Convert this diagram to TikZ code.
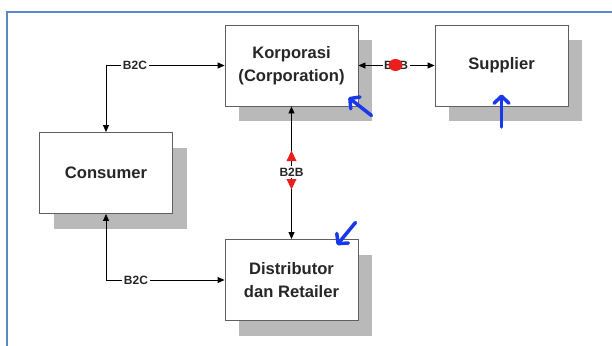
\documentclass[tikz,border=0pt]{standalone}
\usepackage{fontspec}
\setmainfont{Liberation Sans}
\usetikzlibrary{arrows.meta}
\definecolor{frameblue}{RGB}{91,136,200}
\definecolor{annblue}{RGB}{25,55,235}
\definecolor{shadowgray}{RGB}{185,185,185}
\definecolor{boxline}{RGB}{95,95,95}
\definecolor{blobred}{RGB}{235,30,30}
\begin{document}
\begin{tikzpicture}[x=1pt,y=-1pt,
 box/.style={draw=boxline, line width=0.9pt, fill=white, minimum width=133pt, minimum height=81pt, inner sep=0pt, align=center, font=\bfseries\fontsize{16.6}{22.5}\selectfont, text=black!85},
 shadowbox/.style={fill=shadowgray, draw=none, minimum width=133pt, minimum height=81pt, inner sep=0pt},
 conn/.style={line width=0.9pt, black},
 tipend/.style={-{Triangle[length=7pt,width=6pt]}},
 tipboth/.style={{Triangle[length=7pt,width=6pt]}-{Triangle[length=7pt,width=6pt]}},
 lbl/.style={fill=white, inner sep=1.5pt, font=\bfseries\fontsize{12}{13}\selectfont, text=black!85},
 ann/.style={annblue, line width=3.5pt, line cap=round, -{Straight Barb[length=7pt,width=15pt,round]}}]
\useasboundingbox (0,0) rectangle (612,345);
\fill[white] (0,0) rectangle (612,345);
\draw[frameblue, line width=2pt] (7,346) -- (7,12) -- (613,12);
% shadows
\node[shadowbox] (korpsh) at (305.5,80.5) {};
\node[shadowbox] (suppsh) at (515.5,80.5) {};
\node[shadowbox] (conssh) at (120,188) {};
\node[shadowbox] (distsh) at (305.5,295) {};
% boxes
\node[box] (korp) at (291.5,65.5) {Korporasi\\(Corporation)};
\node[box] (supp) at (501.5,65.5) {Supplier};
\node[box] (cons) at (106,173) {Consumer};
\node[box] (dist) at (291.5,280) {Distributor\\dan Retailer};
% connectors
\coordinate (c1) at (106,65.5);
\coordinate (c2) at (106,280);
\draw[conn, tipend] (c1) -- (cons.north);
\draw[conn, tipend] (c1) -- (korp.west);
\node[lbl] (b2c1) at (135,65.5) {B2C};
\draw[conn, tipend] (c2) -- (cons.south);
\draw[conn, tipend] (c2) -- (dist.west);
\node[lbl] (b2c2) at (136,280) {B2C};
\draw[conn, tipboth] (korp.south) -- (dist.north);
\node[lbl] (b2bv) at (291.5,172) {B2B};
\fill[blobred] (291.5,150.5) -- (296.5,161) -- (286.5,161) -- cycle;
\fill[blobred] (291.5,189.5) -- (296.5,179) -- (286.5,179) -- cycle;
\draw[conn, tipboth] (korp.east) -- (supp.west);
\node[lbl] (b2bh) at (396,65.5) {B2B};
\fill[blobred] (395.5,65) ellipse (7 and 6);
% blue annotations
\draw[ann] (371.5,115.5) -- (348.5,97.5);
\draw[ann] (501.5,127) -- (501.5,94.5);
\draw[ann] (355.5,222.5) -- (337,245);
\end{tikzpicture}
\end{document}
